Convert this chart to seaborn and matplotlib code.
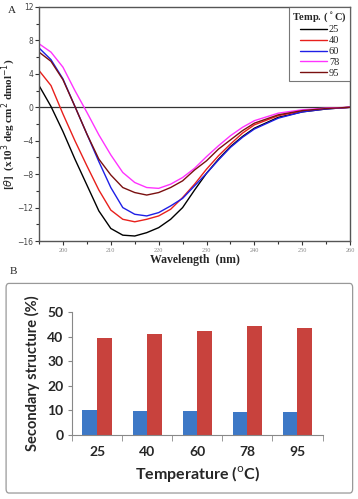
import matplotlib.pyplot as plt
import numpy as np
import pandas as pd
import seaborn as sns
from matplotlib.patches import FancyBboxPatch
from matplotlib.ticker import MultipleLocator

sns.set_style("ticks")
plt.rcParams["font.family"] = ["DejaVu Sans"]

# --- panel A: CD spectra ---
wavelength = [195, 197.5, 200, 202.5, 205, 207.5, 210, 212.5, 215, 217.5, 220, 222.5,
              225, 227.5, 230, 232.5, 235, 237.5, 240, 245, 250, 255, 260]
cd_25 = [2.6, 0.1, -2.9, -6.2, -9.3, -12.4, -14.5, -15.3, -15.4, -15.0, -14.4, -13.4,
         -12.0, -9.9, -7.9, -6.2, -4.7, -3.5, -2.5, -1.2, -0.55, -0.2, 0.0]
cd_40 = [4.4, 2.6, -0.8, -4.0, -7.0, -9.9, -12.3, -13.4, -13.7, -13.4, -13.0, -12.2,
         -10.8, -9.2, -7.4, -5.8, -4.4, -3.1, -2.1, -1.0, -0.45, -0.15, 0.0]
cd_60 = [7.1, 5.7, 3.4, 0.1, -3.2, -6.5, -9.6, -12.0, -12.8, -13.0, -12.6, -11.8,
         -10.9, -9.4, -7.9, -6.3, -4.8, -3.6, -2.6, -1.3, -0.55, -0.2, 0.0]
cd_78 = [7.6, 6.6, 4.8, 2.0, -0.6, -3.3, -5.7, -7.8, -9.0, -9.6, -9.7, -9.2,
         -8.4, -7.3, -5.9, -4.6, -3.4, -2.4, -1.6, -0.7, -0.3, -0.1, 0.0]
cd_95 = [6.6, 5.5, 3.3, 0.1, -3.2, -6.2, -8.1, -9.6, -10.2, -10.5, -10.2, -9.6,
         -8.8, -7.5, -6.4, -5.0, -3.9, -2.8, -1.9, -0.9, -0.4, -0.15, 0.0]
temps = ["25", "40", "60", "78", "95"]
line_colors = ["#000000", "#e8201c", "#1f1fe6", "#ff33ff", "#7a1010"]

# --- panel B: secondary structure ---
temp_labels = ["25", "40", "60", "78", "95"]
helix = [10.0, 9.8, 9.7, 9.3, 9.4]
sheet = [39.5, 41.0, 42.2, 44.2, 43.4]

spectra = pd.DataFrame({"wavelength": wavelength * 5,
                        "theta": cd_25 + cd_40 + cd_60 + cd_78 + cd_95,
                        "temp": [t for t in temps for _ in wavelength]})

fig = plt.figure(figsize=(3.58, 4.99), dpi=100)
serif = ["Liberation Serif", "DejaVu Serif"]
sans = ["Lato", "DejaVu Sans"]

box = FancyBboxPatch((0.017, 0.012), 0.968, 0.42, boxstyle="round,pad=0,rounding_size=0.008",
                     transform=fig.transFigure, facecolor="none", edgecolor="#999999",
                     linewidth=0.9, zorder=-1)
fig.patches.append(box)

ax1 = fig.add_axes([0.109, 0.517, 0.869, 0.469])
sns.lineplot(data=spectra, x="wavelength", y="theta", hue="temp",
             palette=line_colors, linewidth=1.0, ax=ax1)
ax1.axhline(0, color="#333333", linewidth=0.9, zorder=0)
ax1.set_xlim(195, 260)
ax1.set_ylim(-16, 12)
ax1.xaxis.set_major_locator(MultipleLocator(10))
ax1.xaxis.set_minor_locator(MultipleLocator(5))
ax1.yaxis.set_major_locator(MultipleLocator(4))
ax1.yaxis.set_minor_locator(MultipleLocator(2))
ax1.tick_params(which="both", direction="out", length=3, width=0.8, colors="#333333")
ax1.tick_params(which="minor", length=2)
ax1.tick_params(axis="y", labelsize=5.5, pad=1, labelcolor="#444444")
ax1.tick_params(axis="x", labelsize=4.5, pad=2, labelcolor="#888888")
for lab in ax1.get_xticklabels():
    lab.set_family(serif)
for s in ax1.spines.values():
    s.set_linewidth(1.0)
    s.set_color("#555555")
ax1.set_xlabel("Wavelength  (nm)", family=serif, fontsize=8.5, fontweight="bold", labelpad=1)
ax1.set_ylabel(r"[$\theta$]  (x10$^3$ deg cm$^2$ dmol$^{-1}$)", family=serif,
               fontsize=8, fontweight="bold")
ax1.yaxis.set_label_coords(-0.068, 0.5)
leg = ax1.legend(title="Temp. ($^\\circ$C)", loc="upper right", fontsize=7.5,
                 title_fontsize=7.5, frameon=True, fancybox=False, handlelength=2.6,
                 handletextpad=0.2, labelspacing=0.15, borderpad=0.3,
                 borderaxespad=0.0, prop={"family": serif, "size": 7.5})
leg.get_title().set_fontweight("bold")
leg.get_title().set_family(serif)
leg.get_frame().set_edgecolor("#555555")
leg.get_frame().set_linewidth(0.8)
fig.text(0.022, 0.978, "A", fontsize=8, family=serif, va="center")
fig.text(0.028, 0.455, "B", fontsize=8, family=serif, va="center")

# --- panel B ---
struct = pd.DataFrame({"temp": temp_labels * 2,
                       "value": helix + sheet,
                       "kind": ["helix"] * 5 + ["sheet"] * 5})
ax2 = fig.add_axes([0.201, 0.128, 0.70, 0.247])
sns.barplot(data=struct, x="temp", y="value", hue="kind", width=0.58, saturation=1,
            palette=["#3d78c6", "#c8423d"], edgecolor="none", legend=False, ax=ax2)
ax2.set_ylim(0, 50)
ax2.set_xlim(-0.5, 4.5)
ax2.yaxis.set_major_locator(MultipleLocator(10))
ax2.set_facecolor("none")
sns.despine(ax=ax2, top=True, right=True)
for s in ["left", "bottom"]:
    ax2.spines[s].set_color("#888888")
    ax2.spines[s].set_linewidth(0.8)
ax2.tick_params(axis="y", length=3, color="#888888", labelsize=10, pad=3)
ax2.tick_params(axis="x", length=0, labelsize=10, pad=8)
ax2.set_xticks(np.arange(-0.5, 5, 1), minor=True)
ax2.tick_params(axis="x", which="minor", length=4, color="#888888")
for lab in ax2.get_xticklabels() + ax2.get_yticklabels():
    lab.set_fontweight("bold")
    lab.set_family(sans)
ax2.set_xlabel(r"Temperature ($^{\rm o}$C)", fontsize=11.5, fontweight="bold",
               family=sans, labelpad=4)
ax2.set_ylabel("Secondary structure (%)", fontsize=10.5, fontweight="bold",
               family=sans, labelpad=5)

fig.savefig("out.png", dpi=100)
